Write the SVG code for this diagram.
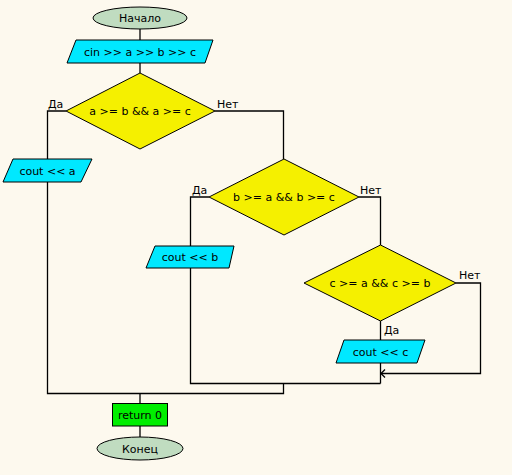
<svg xmlns="http://www.w3.org/2000/svg" width="512" height="475" viewBox="0 0 512 475">
  <defs>
    <style>
      .bg { fill: #fdf9ee; }
      .term { fill: #c0dcc0; stroke: #000; stroke-width: 1; }
      .io { fill: #00e8ff; stroke: #000; stroke-width: 1; }
      .cond { fill: #f5f000; stroke: #000; stroke-width: 1; }
      .proc { fill: #00ee00; stroke: #000; stroke-width: 1; }
      .wire { fill: none; stroke: #000; stroke-width: 1.3; }
      text { font-family: "DejaVu Sans", Verdana, sans-serif; font-size: 11px; fill: #000; }
      .c { text-anchor: middle; }
    </style>
  </defs>

  <rect class="bg" x="0" y="0" width="512" height="475"/>

  <!-- connectors -->
  <g id="connectors">
    <path class="wire" d="M140 29 V40"/>
    <path class="wire" d="M140 63 V73"/>
    <!-- first decision branches -->
    <path class="wire" d="M66 111 H47.5 V159"/>
    <path class="wire" d="M47.5 182 V393.5 H283.5 V383.5"/>
    <path class="wire" d="M215 111 H283.5 V159"/>
    <!-- second decision branches -->
    <path class="wire" d="M209 197 H190.5 V246"/>
    <path class="wire" d="M190.5 268 V383.5 H380.5"/>
    <path class="wire" d="M359 197 H380.5 V245"/>
    <!-- third decision branches -->
    <path class="wire" d="M380.5 321 V340"/>
    <path class="wire" d="M380.5 363 V383.5"/>
    <path class="wire" d="M456 283 H480.5 V373.5 H381"/>
    <path class="wire" d="M385 369.5 L381 373.5 L385 377.5"/>
    <!-- tail -->
    <path class="wire" d="M140 393.5 V403"/>
    <path class="wire" d="M140 426 V437"/>
  </g>

  <g id="start">
    <ellipse class="term" cx="140" cy="18" rx="47" ry="11"/>
    <text class="c" x="140" y="22">Начало</text>
  </g>

  <g id="input">
    <polygon class="io" points="76,40 213,40 205,63 67,63"/>
    <text class="c" x="140" y="55.5">cin &gt;&gt; a &gt;&gt; b &gt;&gt; c</text>
  </g>

  <g id="cond1">
    <polygon class="cond" points="140,73 215,111 140,149 66,111"/>
    <text class="c" x="140" y="115">a &gt;= b &amp;&amp; a &gt;= c</text>
    <text x="48" y="108">Да</text>
    <text x="217" y="108">Нет</text>
  </g>

  <g id="out-a">
    <polygon class="io" points="13,159 92,159 81,182 3,182"/>
    <text class="c" x="47.5" y="174.5">cout &lt;&lt; a</text>
  </g>

  <g id="cond2">
    <polygon class="cond" points="284,159 359,197 284,235 209,197"/>
    <text class="c" x="284" y="201">b &gt;= a &amp;&amp; b &gt;= c</text>
    <text x="192" y="194">Да</text>
    <text x="360" y="194">Нет</text>
  </g>

  <g id="out-b">
    <polygon class="io" points="155,246 234,246 229,268 146,268"/>
    <text class="c" x="190" y="261">cout &lt;&lt; b</text>
  </g>

  <g id="cond3">
    <polygon class="cond" points="380.5,245 456,283 380.5,321 304,283"/>
    <text class="c" x="380" y="287">c &gt;= a &amp;&amp; c &gt;= b</text>
    <text x="459" y="279">Нет</text>
    <text x="384" y="334">Да</text>
  </g>

  <g id="out-c">
    <polygon class="io" points="344,340 425,340 417,363 336,363"/>
    <text class="c" x="380.5" y="355.5">cout &lt;&lt; c</text>
  </g>

  <g id="ret">
    <rect class="proc" x="112.5" y="403.5" width="55" height="22.5"/>
    <text class="c" x="140" y="418.5">return 0</text>
  </g>

  <g id="end">
    <ellipse class="term" cx="140" cy="448.5" rx="43" ry="11.5"/>
    <text class="c" x="140" y="452.5">Конец</text>
  </g>
</svg>
